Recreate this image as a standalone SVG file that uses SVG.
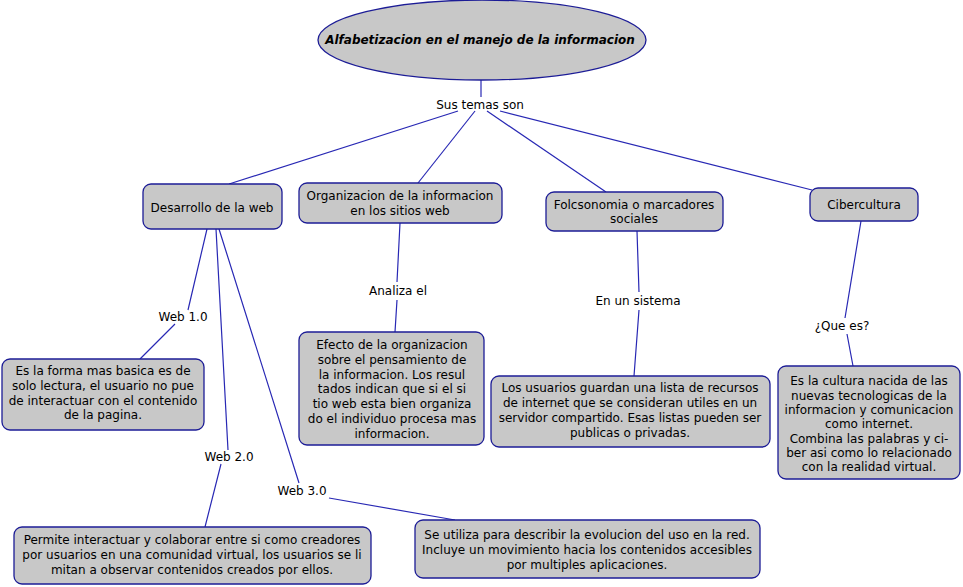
<svg xmlns="http://www.w3.org/2000/svg" width="963" height="587" viewBox="0 0 963 587">
<style>
.n{fill:#c8c8c8;stroke:#1c1c96;stroke-width:1.3}
.c{stroke:#2828b4;stroke-width:1.2;fill:none}
text{font-family:"DejaVu Sans",Verdana,sans-serif;font-size:12px;fill:#000;text-anchor:middle}
.t{font-weight:bold;font-style:italic}
</style>
<rect width="963" height="587" fill="#fff"/>
<g id="connectors">
<path class="c" d="M481,80 L481,97"/>
<path class="c" d="M458,111 L229,184"/>
<path class="c" d="M475,111 L418,183"/>
<path class="c" d="M487,111 L606,192"/>
<path class="c" d="M500,111 L812,190"/>
<path class="c" d="M207,229 L188,310 M175,324 L140,359"/>
<path class="c" d="M216,229 L228,450 M221,464 L205,527"/>
<path class="c" d="M219,229 L299,483 M329,498 L455,520"/>
<path class="c" d="M400,223 L397,282 M397,300 L395,332"/>
<path class="c" d="M637,231 L639,292 M639,310 L634,376"/>
<path class="c" d="M861,221 L845,318 M847,334 L853,366"/>
<text x="480" y="109">Sus temas son</text>
<text x="183" y="321">Web 1.0</text>
<text x="229" y="461">Web 2.0</text>
<text x="302" y="495">Web 3.0</text>
<text x="398" y="295">Analiza el</text>
<text x="638" y="305">En un sistema</text>
<text x="842" y="330">¿Que es?</text>
</g>
<g id="root">
<ellipse class="n" cx="482" cy="40" rx="164" ry="40"/>
<text class="t" x="480" y="44">Alfabetizacion en el manejo de la informacion</text>
</g>
<g id="desarrollo">
<rect class="n" x="143" y="184" width="139" height="45" rx="8"/>
<text x="212" y="212">Desarrollo de la web</text>
</g>
<g id="organizacion">
<rect class="n" x="299" y="183" width="203" height="40" rx="8"/>
<text x="400" y="200">Organizacion de la informacion</text>
<text x="400" y="215">en los sitios web</text>
</g>
<g id="folcsonomia">
<rect class="n" x="546" y="192" width="177" height="39" rx="8"/>
<text x="634" y="209">Folcsonomia o marcadores</text>
<text x="634" y="223">sociales</text>
</g>
<g id="cibercultura">
<rect class="n" x="810" y="188" width="108" height="33" rx="8"/>
<text x="864" y="209">Cibercultura</text>
</g>
<g id="web1">
<rect class="n" x="2" y="359" width="202" height="71" rx="8"/>
<text x="103" y="375">Es la forma mas basica es de</text>
<text x="103" y="390">solo lectura, el usuario no pue</text>
<text x="103" y="405">de interactuar con el contenido</text>
<text x="103" y="419">de la pagina.</text>
</g>
<g id="efecto">
<rect class="n" x="299" y="332" width="185" height="113" rx="8"/>
<text x="392" y="349">Efecto de la organizacion</text>
<text x="392" y="364">sobre el pensamiento de</text>
<text x="392" y="379">la informacion. Los resul</text>
<text x="392" y="393">tados indican que si el si</text>
<text x="392" y="408">tio web esta bien organiza</text>
<text x="392" y="423">do el individuo procesa mas</text>
<text x="392" y="438">informacion.</text>
</g>
<g id="usuarios">
<rect class="n" x="491" y="376" width="279" height="71" rx="8"/>
<text x="630" y="392">Los usuarios guardan una lista de recursos</text>
<text x="630" y="407">de internet que se consideran utiles en un</text>
<text x="630" y="422">servidor compartido. Esas listas pueden ser</text>
<text x="630" y="437">publicas o privadas.</text>
</g>
<g id="cultura">
<rect class="n" x="778" y="366" width="182" height="113" rx="8"/>
<text x="869" y="385">Es la cultura nacida de las</text>
<text x="869" y="400">nuevas tecnologicas de la</text>
<text x="869" y="414">informacion y comunicacion</text>
<text x="869" y="428">como internet.</text>
<text x="869" y="443">Combina las palabras y ci-</text>
<text x="869" y="457">ber asi como lo relacionado</text>
<text x="869" y="471">con la realidad virtual.</text>
</g>
<g id="web2">
<rect class="n" x="14" y="527" width="357" height="57" rx="8"/>
<text x="192" y="544">Permite interactuar y colaborar entre si como creadores</text>
<text x="192" y="559">por usuarios en una comunidad virtual, los usuarios se li</text>
<text x="192" y="574">mitan a observar contenidos creados por ellos.</text>
</g>
<g id="web3">
<rect class="n" x="415" y="520" width="345" height="58" rx="8"/>
<text x="587" y="539">Se utiliza para describir la evolucion del uso en la red.</text>
<text x="587" y="554">Incluye un movimiento hacia los contenidos accesibles</text>
<text x="587" y="569">por multiples aplicaciones.</text>
</g>
</svg>
